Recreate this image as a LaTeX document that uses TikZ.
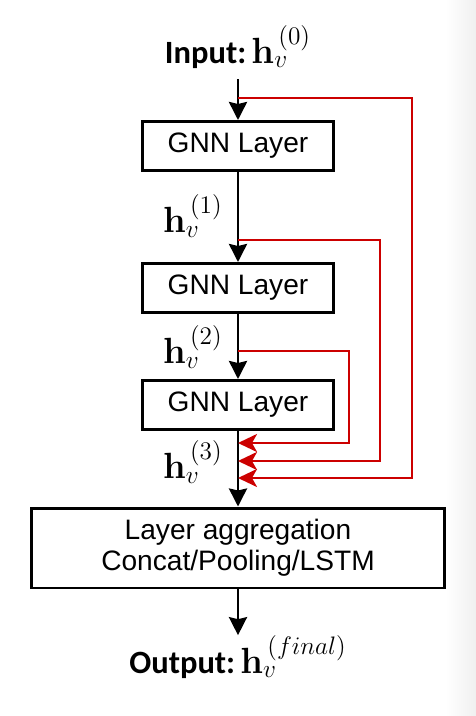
\documentclass[tikz,border=0pt]{standalone}
\usepackage[no-math]{fontspec}
\setmainfont{Liberation Sans}
\newfontfamily\lblfont{Carlito}
\usepackage{amsmath}
\usetikzlibrary{arrows.meta}
\definecolor{skipred}{RGB}{204,0,0}
\newcommand{\hvec}[1]{{\fontsize{19.5}{22}\selectfont$\mathbf{h}_v^{\,(#1)}$}}

\begin{document}
\begin{tikzpicture}[x=0.02cm,y=-0.02cm,
  layer/.style={draw,line width=1.7pt,minimum width=3.82cm,minimum height=0.98cm,
    font=\fontsize{16}{17.6}\selectfont},
  flow/.style={line width=1.6pt,-{Stealth[length=0.36cm,width=0.36cm,inset=0.04cm]}},
  skip/.style={skipred,line width=1.5pt,-{Stealth[length=0.38cm,width=0.36cm,inset=0.1cm]}},
  hlab/.style={font=\fontsize{18.5}{20}\selectfont,inner sep=0pt}]

\useasboundingbox (0,0) rectangle (476,716);
\shade[left color=white,right color=black!6] (446,0) rectangle (476,716);

% Main column
\def\CX{238};

\node[hlab] (input) at (\CX,47) {{\lblfont\bfseries Input:}\hspace{3pt}\hvec{0}};
\node[layer] (gnn1) at (\CX,146) {GNN Layer};
\node[layer] (gnn2) at (\CX,288) {GNN Layer};
\node[layer] (gnn3) at (\CX,405) {GNN Layer};
\node[layer,minimum width=8.26cm,minimum height=1.6cm,align=center] (agg) at (\CX,548)
  {Layer aggregation\\Concat/Pooling/LSTM};
\node[hlab] (output) at (\CX,657) {{\lblfont\bfseries Output:}\hspace{3pt}\hvec{final}};

% Hidden states
\node[hlab,anchor=east] (h1) at (223,216) {\hvec{1}};
\node[hlab,anchor=east] (h2) at (223,347) {\hvec{2}};
\node[hlab,anchor=east] (h3) at (223,462) {\hvec{3}};

\draw[flow,shorten <=6pt] (input) -- (gnn1);
\draw[flow] (gnn1) -- (gnn2);
\draw[flow] (gnn2) -- (gnn3);
\draw[flow] (gnn3) -- (agg);
\draw[flow] (agg) -- (output);

% Skip connections
\foreach \i/\yb/\xr/\ye in {0/98/412/478, 1/240/380/461, 2/351/349/443}
{\coordinate (b\i) at (\CX,\yb);
\coordinate (e\i) at (\CX,\ye);
\draw[skip] (b\i) -- ++(\xr-\CX,0) |- (e\i);}

\end{tikzpicture}
\end{document}
